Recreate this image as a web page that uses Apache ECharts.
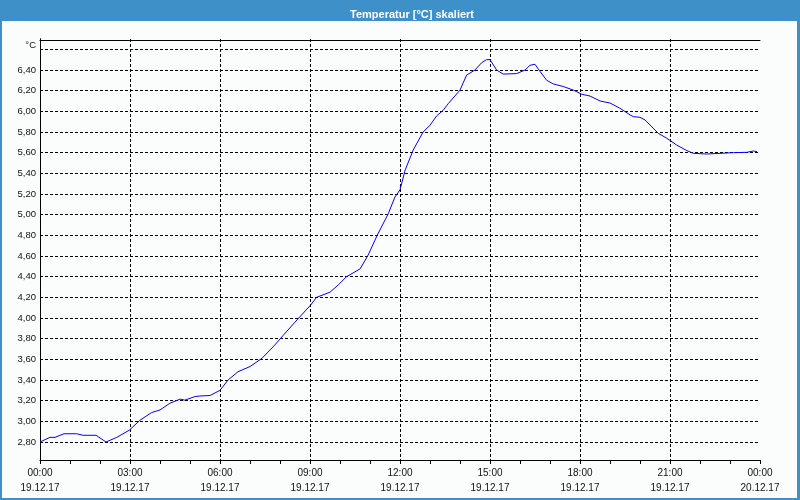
<!DOCTYPE html>
<html>
<head>
<meta charset="utf-8">
<script src="https://cdn.jsdelivr.net/npm/echarts@6/dist/echarts.min.js"></script>
<style>
html,body{margin:0;padding:0;background:#fbfdfc;}
#chart{width:800px;height:500px;}
</style>
</head>
<body>
<div id="chart"></div>
<script>
// Time in hours since 19.12.17 00:00
var hours = [0.00,0.33,0.50,0.80,1.22,1.44,1.87,2.20,2.56,2.98,3.33,3.72,4.00,4.33,4.67,4.83,5.17,5.33,5.67,6.00,6.27,6.60,7.00,7.40,7.83,8.10,8.50,9.02,9.22,9.67,9.94,10.22,10.67,10.94,11.24,11.61,11.83,12.00,12.17,12.44,12.77,13.00,13.22,13.44,13.61,14.00,14.22,14.50,14.72,14.89,15.00,15.22,15.44,15.89,16.17,16.33,16.50,16.67,16.89,17.11,17.44,17.78,18.06,18.33,18.67,19.00,19.33,19.67,19.78,20.00,20.17,20.61,20.89,21.22,21.56,21.78,22.22,22.67,23.11,23.56,23.78,23.90];
var temps = [2.80,2.845,2.845,2.88,2.88,2.865,2.865,2.80,2.845,2.915,3.01,3.085,3.11,3.175,3.215,3.205,3.24,3.245,3.25,3.30,3.40,3.48,3.53,3.61,3.74,3.83,3.96,4.125,4.20,4.25,4.32,4.40,4.475,4.61,4.80,5.01,5.17,5.24,5.43,5.625,5.80,5.865,5.955,6.01,6.075,6.205,6.35,6.40,6.47,6.50,6.50,6.40,6.36,6.365,6.40,6.445,6.455,6.385,6.30,6.265,6.24,6.205,6.165,6.148,6.10,6.08,6.03,5.965,5.948,5.942,5.916,5.787,5.74,5.674,5.62,5.593,5.587,5.593,5.60,5.603,5.616,5.61];
var xTickTimes = ['00:00','03:00','06:00','09:00','12:00','15:00','18:00','21:00','00:00'];
var xTickDates = ['19.12.17','19.12.17','19.12.17','19.12.17','19.12.17','19.12.17','19.12.17','19.12.17','20.12.17'];
var titleText = 'Temperatur [°C] skaliert';
var unitLabel = '°C';

var data = hours.map(function(h,i){return [h,temps[i]];});
var chart = echarts.init(document.getElementById('chart'), null, {renderer:'canvas'});
var blue = '#3e90c8';
var fontFam = 'Liberation Sans, Arial, sans-serif';
var txt = '#111';
var gridDash = {color:'#000', type:[3,2], width:1};
chart.setOption({
  animation:false,
  backgroundColor:'#fbfdfc',
  graphic:[
    {type:'rect', shape:{x:0,y:0,width:800,height:21}, style:{fill:blue}, z:-1},
    {type:'rect', shape:{x:0,y:0,width:2,height:500}, style:{fill:blue}, z:-1},
    {type:'rect', shape:{x:797,y:0,width:3,height:500}, style:{fill:blue}, z:-1},
    {type:'rect', shape:{x:0,y:498,width:800,height:2}, style:{fill:blue}, z:-1}
  ],
  title:{text:titleText, left:407, top:4, textAlign:'center',
    textStyle:{color:'#fff', fontSize:11, fontWeight:'bold', fontFamily:fontFam}},
  grid:{left:40, right:40, top:38.97, bottom:37.33, containLabel:false},
  xAxis:[{
    type:'value', min:0, max:24, interval:3, offset:-2.67,
    axisLine:{show:true, onZero:false, lineStyle:{color:'#000', width:1}},
    axisTick:{show:true, length:4, lineStyle:{color:'#000'}},
    minorTick:{show:true, splitNumber:3, length:4, lineStyle:{color:'#000'}},
    splitLine:{show:true, showMinLine:false, showMaxLine:false, lineStyle:gridDash},
    axisLabel:{margin:6, lineHeight:15, color:txt, fontSize:10, fontFamily:fontFam,
      formatter:function(v){var i=Math.round(v/3); return xTickTimes[i]+'\n'+xTickDates[i];}}
  },{
    type:'value', position:'top', min:0, max:24, offset:-1,
    axisLine:{show:true, lineStyle:{color:'#000'}},
    axisTick:{show:false}, axisLabel:{show:false}, splitLine:{show:false}
  }],
  yAxis:[{
    type:'value', min:2.6, max:6.7, interval:0.2,
    axisLine:{show:true, onZero:false, lineStyle:{color:'#000', width:1}},
    axisTick:{show:false},
    splitLine:{show:true, showMinLine:false, showMaxLine:false, lineStyle:gridDash},
    axisLabel:{margin:4, color:txt, fontSize:9.5, fontFamily:fontFam,
      formatter:function(v){
        if (Math.abs(v-6.6)<1e-6) return '{u|'+unitLabel+'}';
        if (Math.abs(v-2.6)<1e-6 || v>6.65) return '';
        return v.toFixed(2).replace('.',',');
      },
      rich:{u:{padding:[0,0,8,0], color:txt, fontSize:9.5, fontFamily:fontFam}}}
  },{
    type:'value', position:'right', min:2.6, max:6.7,
    axisLine:{show:true, lineStyle:{color:'#000'}},
    axisTick:{show:false}, axisLabel:{show:false}, splitLine:{show:false}
  }],
  series:[{
    type:'line', data:data, showSymbol:false, smooth:false,
    lineStyle:{color:'#0000ff', width:1}, itemStyle:{color:'#0000ff'}, z:3
  }]
});
</script>
</body>
</html>
